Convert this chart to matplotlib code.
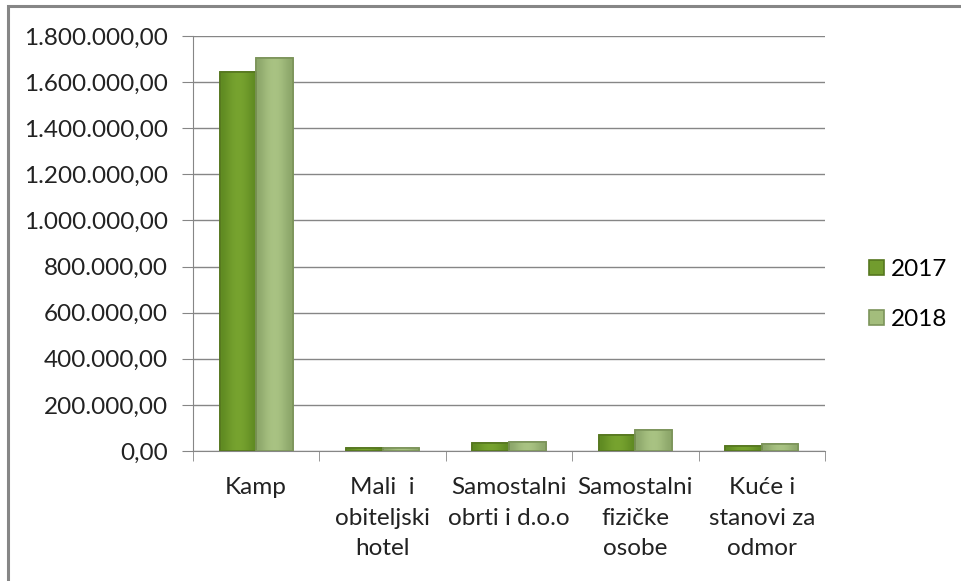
import numpy as np
import matplotlib.pyplot as plt
from matplotlib.patches import Rectangle
from matplotlib.colors import LinearSegmentedColormap

plt.rcParams['font.family'] = ['Lato', 'DejaVu Sans']

categories = ['Kamp', 'Mali  i\nobiteljski\nhotel', 'Samostalni\nobrti i d.o.o',
              'Samostalni\nfizičke\nosobe', 'Kuće i\nstanovi za\nodmor']
v2017 = [1644000, 12000, 35000, 69000, 23000]
v2018 = [1705000, 11000, 37000, 91000, 30000]
years = ['2017', '2018']
yticks = np.arange(0, 1800001, 200000)

fig = plt.figure(figsize=(9.62, 5.81), dpi=100)
ax = fig.add_axes([0.2006, 0.2238, 0.6570, 0.7142])

x = np.arange(len(categories))
w = 0.29
b1 = ax.bar(x - w / 2, v2017, w, color='#729c2e', edgecolor='#56771f', linewidth=1.2, zorder=3)
b2 = ax.bar(x + w / 2, v2018, w, color='#a3bd7c', edgecolor='#7c945a', linewidth=1.2, zorder=3)

# soft side shading like the bevelled bars in the original
grad = np.array([[0.0, 0.6, 1.0, 1.0, 0.6, 0.0]])
cm17 = LinearSegmentedColormap.from_list('c17', ['#5f8a22', '#77a32f'])
cm18 = LinearSegmentedColormap.from_list('c18', ['#8ca66a', '#a9c383'])
for bars, cm in [(b1, cm17), (b2, cm18)]:
    for b in bars:
        im = ax.imshow(grad, cmap=cm, aspect='auto', interpolation='bicubic', zorder=3.5,
                       extent=(b.get_x(), b.get_x() + b.get_width(), 0, b.get_height()))
        im.set_clip_path(b)
        ax.add_patch(Rectangle((b.get_x(), 0), b.get_width(), b.get_height(), fill=False,
                               edgecolor=b.get_edgecolor(), linewidth=1.2, zorder=4))

ax.set_xlim(-0.5, len(categories) - 0.5)
ax.set_ylim(0, 1800000)
ax.set_yticks(yticks)
ax.set_yticklabels([f'{v:,.2f}'.replace(',', 'X').replace('.', ',').replace('X', '.') for v in yticks],
                   fontsize=17.5, color='#222222')
ax.set_xticks(x)
ax.set_xticklabels(categories, fontsize=17.5, color='#222222', linespacing=1.55, va='top')
ax.set_xticks(np.arange(len(categories) + 1) - 0.5, minor=True)
ax.tick_params(axis='x', which='major', length=0, pad=19)
ax.tick_params(axis='x', which='minor', length=7, color='#868686', direction='out')
ax.tick_params(axis='y', length=8, color='#868686', direction='out', pad=10)

ax.grid(axis='y', color='#868686', linewidth=1, zorder=0)
ax.set_axisbelow(True)
for s in ['top', 'right']:
    ax.spines[s].set_visible(False)
for s in ['left', 'bottom']:
    ax.spines[s].set_color('#868686')

leg = ax.legend([b1, b2], years, loc='center left', bbox_to_anchor=(1.035, 0.377),
                frameon=False, fontsize=17.5, handlelength=0.6, handleheight=0.6,
                labelspacing=1.2, handletextpad=0.3)

# chart frame (top and left edges visible)
fig.patches.append(Rectangle((8 / 962, -0.05), 1.2, 1.05 - 6 / 581, transform=fig.transFigure,
                             fill=False, edgecolor='#868686', linewidth=2.2))

fig.savefig('out.png', dpi=100)
